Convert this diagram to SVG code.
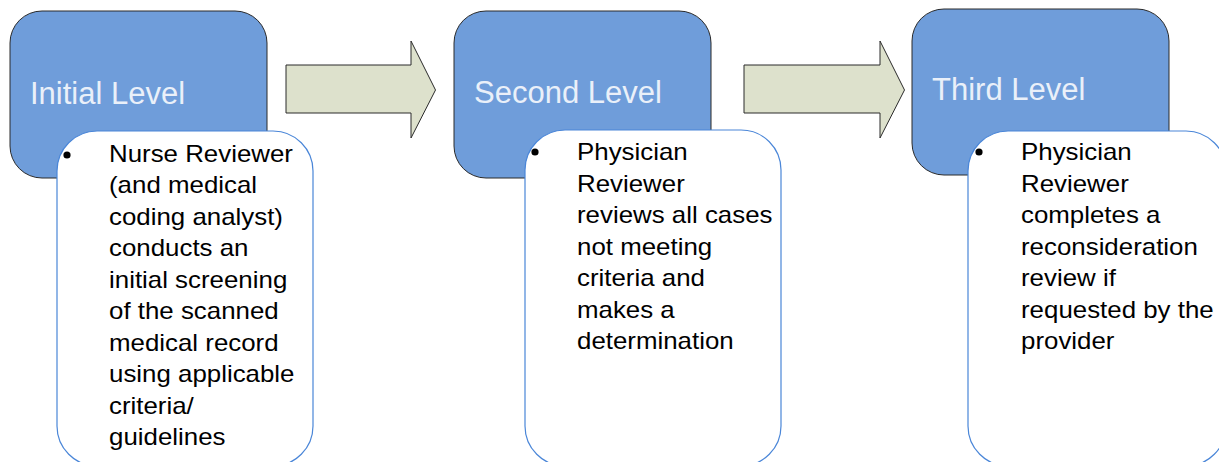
<svg xmlns="http://www.w3.org/2000/svg" width="1219" height="462" viewBox="0 0 1219 462">
<style>
.lvl{fill:#6f9dda;stroke:#2a2a2a;stroke-width:1}
.card{fill:#ffffff;stroke:#4a86d8;stroke-width:1.2}
.ttl{font-family:"Liberation Sans",Arial,sans-serif;font-size:31px;fill:#eaf0f9}
.txt{font-family:"Liberation Sans",Arial,sans-serif;font-size:23px;fill:#000}
.arr{fill:#dde1cc;stroke:#2a2a2a;stroke-width:1}
</style>
<rect width="1219" height="462" fill="#ffffff"/>
<g id="connectors">
<polygon class="arr" points="286,65 411,65 411,41 435.5,90 411,138 411,113 286,113"/>
<polygon class="arr" points="744,65 880,65 880,41 904.5,90 880,138 880,113 744,113"/>
</g>
<g id="node-initial">
<rect class="lvl" x="10" y="11" width="257" height="167" rx="32"/>
<text class="ttl" x="30" y="104">Initial Level</text>
<rect class="card" x="57" y="131" width="256" height="335" rx="40"/>
<circle cx="67" cy="155" r="3.6" fill="#000"/>
<text class="txt" transform="translate(109 0) scale(1.125 1)">
<tspan x="0" y="162">Nurse Reviewer</tspan>
<tspan x="0" y="193.5">(and medical</tspan>
<tspan x="0" y="225">coding analyst)</tspan>
<tspan x="0" y="256.5">conducts an</tspan>
<tspan x="0" y="288">initial screening</tspan>
<tspan x="0" y="319.5">of the scanned</tspan>
<tspan x="0" y="351">medical record</tspan>
<tspan x="0" y="382.5">using applicable</tspan>
<tspan x="0" y="414">criteria/</tspan>
<tspan x="0" y="445.5">guidelines</tspan>
</text>
</g>
<g id="node-second">
<rect class="lvl" x="454" y="11" width="257" height="167" rx="32"/>
<text class="ttl" x="474" y="103">Second Level</text>
<rect class="card" x="525" y="130" width="256" height="336" rx="40"/>
<circle cx="535" cy="152" r="3.6" fill="#000"/>
<text class="txt" transform="translate(577 0) scale(1.125 1)">
<tspan x="0" y="160.5">Physician</tspan>
<tspan x="0" y="192">Reviewer</tspan>
<tspan x="0" y="223.5">reviews all cases</tspan>
<tspan x="0" y="255">not meeting</tspan>
<tspan x="0" y="286.5">criteria and</tspan>
<tspan x="0" y="318">makes a</tspan>
<tspan x="0" y="349.5">determination</tspan>
</text>
</g>
<g id="node-third">
<rect class="lvl" x="912" y="9" width="257" height="166" rx="32"/>
<text class="ttl" x="932" y="100">Third Level</text>
<rect class="card" x="968" y="131" width="258" height="335" rx="40"/>
<circle cx="979" cy="152" r="3.6" fill="#000"/>
<text class="txt" transform="translate(1021 0) scale(1.125 1)">
<tspan x="0" y="160.5">Physician</tspan>
<tspan x="0" y="192">Reviewer</tspan>
<tspan x="0" y="223.5">completes a</tspan>
<tspan x="0" y="255">reconsideration</tspan>
<tspan x="0" y="286.5">review if</tspan>
<tspan x="0" y="318">requested by the</tspan>
<tspan x="0" y="349.5">provider</tspan>
</text>
</g>
</svg>
